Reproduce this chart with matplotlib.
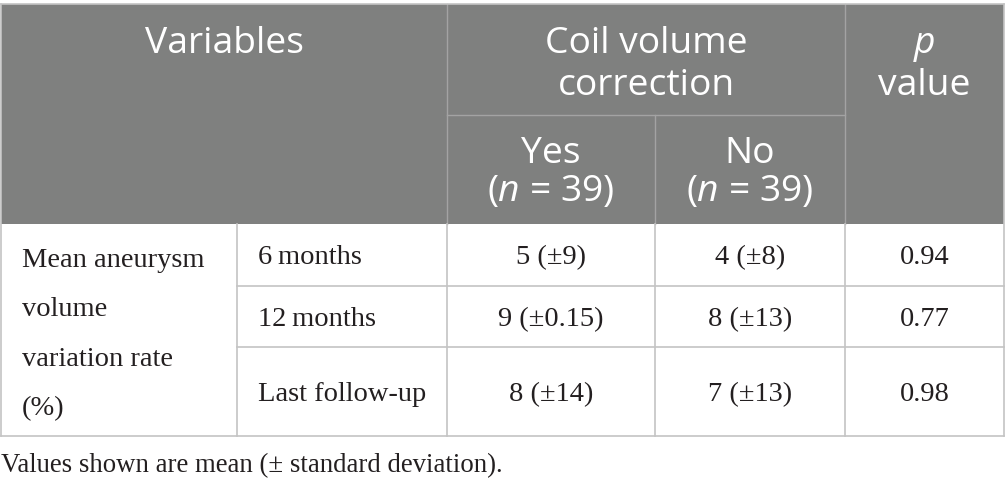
import matplotlib.pyplot as plt
from matplotlib.patches import Rectangle

plt.rcParams['mathtext.fontset'] = 'custom'
plt.rcParams['mathtext.rm'] = 'Open Sans'
plt.rcParams['mathtext.it'] = 'Open Sans:italic'

# table content
row_group = ['Mean aneurysm', 'volume', 'variation rate', '(%)']
timepoints = ['6\u2009months', '12\u2009months', 'Last follow-up']
yes_mean = [5, 9, 8]
yes_sd = ['9', '0.15', '14']
no_mean = [4, 8, 7]
no_sd = ['8', '13', '13']
p_values = ['0.94', '0.77', '0.98']
n_yes = 39
n_no = 39
footnote = 'Values shown are mean (\u00b1 standard deviation).'

# layout in pixels
W, H = 1005, 488
col_x = [1, 237, 447, 655, 845, 1004]
head_top, head_mid, head_bot = 4, 115, 224
row_y = [224, 286, 347, 436]

header_bg = '#7f807f'
head_line = '#a3a3a3'
grid = '#c4c4c4'
head_font = 'Open Sans'
body_font = ['Liberation Serif', 'DejaVu Serif']
hs = 26.8
bs = 20.5

fig = plt.figure(figsize=(W / 100, H / 100), dpi=100)
ax = fig.add_axes([0, 0, 1, 1])
ax.set_xlim(0, W)
ax.set_ylim(H, 0)
ax.axis('off')

# header background
ax.add_patch(Rectangle((col_x[0], head_top), col_x[-1] - col_x[0], head_bot - head_top,
                       facecolor=header_bg, edgecolor='none'))

# header lines
ax.plot([col_x[2], col_x[2]], [head_top, head_bot], color=head_line, lw=1)
ax.plot([col_x[4], col_x[4]], [head_top, head_bot], color=head_line, lw=1)
ax.plot([col_x[3], col_x[3]], [head_mid, head_bot], color=head_line, lw=1)
ax.plot([col_x[2], col_x[4]], [head_mid, head_mid], color=head_line, lw=1)

# outer border
ax.plot([col_x[0], col_x[-1]], [head_top, head_top], color=grid, lw=1.2)
ax.plot([col_x[0], col_x[0]], [head_top, row_y[-1]], color=grid, lw=1.2)
ax.plot([col_x[-1], col_x[-1]], [head_top, row_y[-1]], color=grid, lw=1.2)
ax.plot([col_x[0], col_x[-1]], [row_y[-1], row_y[-1]], color=grid, lw=1.2)

# body lines
for x in col_x[1:-1]:
    ax.plot([x, x], [row_y[0], row_y[-1]], color=grid, lw=1.2)
for y in row_y[1:-1]:
    ax.plot([col_x[1], col_x[-1]], [y, y], color=grid, lw=1.2)

# header text
def htext(x, y, s):
    ax.text(x, y, s, color='white', family=head_font, fontsize=hs,
            ha='center', va='baseline')

htext((col_x[0] + col_x[2]) / 2, 53, 'Variables')
htext((col_x[2] + col_x[4]) / 2, 53, 'Coil volume')
htext((col_x[2] + col_x[4]) / 2, 95, 'correction')
htext((col_x[4] + col_x[5]) / 2, 53, r'$\mathit{p}$')
htext((col_x[4] + col_x[5]) / 2, 95, 'value')
htext((col_x[2] + col_x[3]) / 2, 163, 'Yes')
htext((col_x[2] + col_x[3]) / 2, 201, r'($\mathit{n}$ = %d)' % n_yes)
htext((col_x[3] + col_x[4]) / 2, 163, 'No')
htext((col_x[3] + col_x[4]) / 2, 201, r'($\mathit{n}$ = %d)' % n_no)

# body text
for i, s in enumerate(row_group):
    ax.text(22, 267 + i * 49.5, s, family=body_font, fontsize=bs, color='#231f20',
            va='baseline', ha='left')

for i in range(len(timepoints)):
    yc = (row_y[i] + row_y[i + 1]) / 2
    ax.text(col_x[1] + 21, yc, timepoints[i], family=body_font, fontsize=bs,
            color='#231f20', va='center_baseline', ha='left')
    ax.text((col_x[2] + col_x[3]) / 2, yc, '%d (\u00b1%s)' % (yes_mean[i], yes_sd[i]),
            family=body_font, fontsize=bs, color='#231f20', va='center_baseline', ha='center')
    ax.text((col_x[3] + col_x[4]) / 2, yc, '%d (\u00b1%s)' % (no_mean[i], no_sd[i]),
            family=body_font, fontsize=bs, color='#231f20', va='center_baseline', ha='center')
    ax.text((col_x[4] + col_x[5]) / 2, yc, p_values[i],
            family=body_font, fontsize=bs, color='#231f20', va='center_baseline', ha='center')

ax.text(1, 472, footnote, family=body_font, fontsize=19.3, color='#231f20',
        va='baseline', ha='left')

fig.savefig('out.png', dpi=100)
